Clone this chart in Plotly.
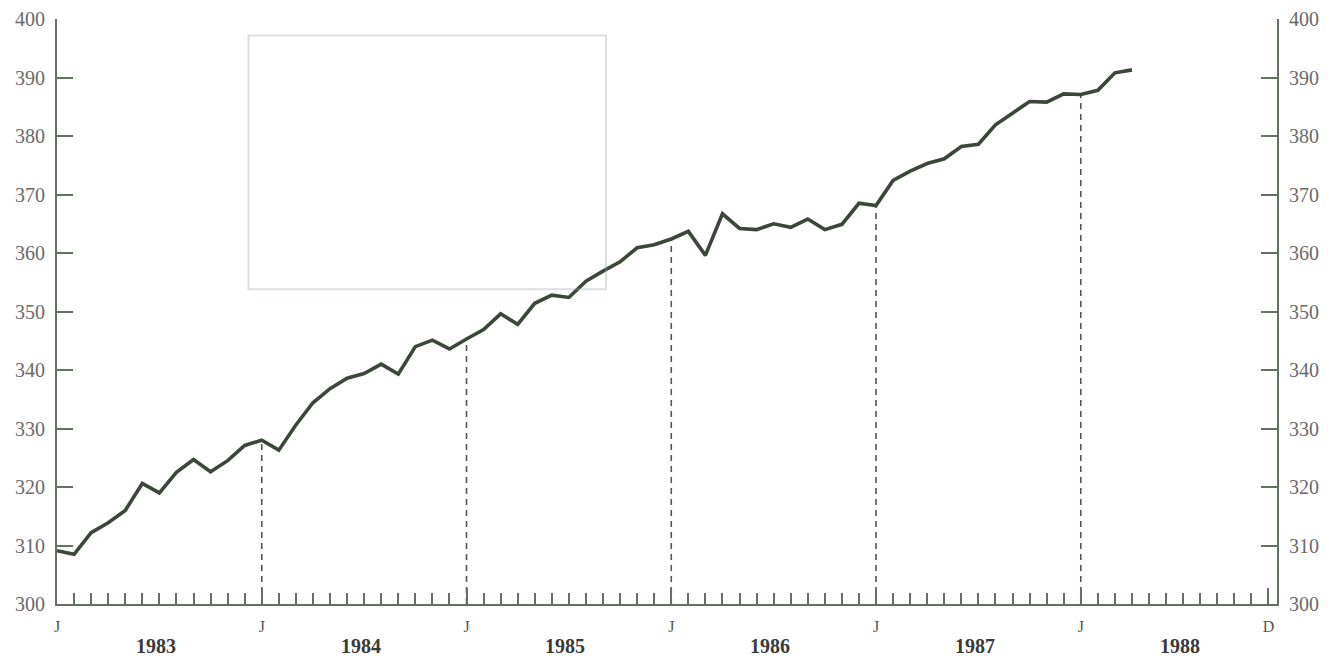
import plotly.graph_objects as go

# monthly values, Jan 1983 .. Apr 1988
values = [
    309.1, 308.5, 312.2, 313.9, 316.0, 320.6, 319.0, 322.5, 324.7, 322.6, 324.5, 327.1,  # 1983
    328.0, 326.3, 330.6, 334.4, 336.8, 338.6, 339.4, 341.0, 339.3, 344.0, 345.1, 343.6,  # 1984
    345.3, 346.9, 349.6, 347.8, 351.4, 352.8, 352.4, 355.2, 356.9, 358.5, 360.9, 361.4,  # 1985
    362.4, 363.7, 359.6, 366.7, 364.2, 364.0, 365.0, 364.4, 365.8, 364.0, 364.9, 368.5,  # 1986
    368.1, 372.4, 374.0, 375.3, 376.1, 378.2, 378.6, 381.9, 383.9, 385.9, 385.8, 387.2,  # 1987
    387.1, 387.8, 390.8, 391.3,                                                          # 1988
]
months = list(range(len(values)))
years = ["1983", "1984", "1985", "1986", "1987", "1988"]
month_ticks = [0, 12, 24, 36, 48, 60, 71]
month_labels = ["J", "J", "J", "J", "J", "J", "D"]
y_ticks = [300, 310, 320, 330, 340, 350, 360, 370, 380, 390, 400]

serif = "Liberation Serif, DejaVu Serif, serif"
axis_col = "#60735c"
line_col = "#3b4839"

fig = go.Figure()

# dashed drop lines at each January
for m in month_ticks[1:-1]:
    if m < len(values):
        fig.add_trace(go.Scatter(
            x=[m, m], y=[300, values[m]], mode="lines",
            line=dict(color="#555555", width=1.6, dash="6px,5px"),
            hoverinfo="skip", showlegend=False))

fig.add_trace(go.Scatter(
    x=months, y=values, mode="lines",
    line=dict(color=line_col, width=3.6),
    showlegend=False))

# invisible copy to carry the right-hand axis
fig.add_trace(go.Scatter(
    x=months, y=values, mode="lines", yaxis="y2",
    line=dict(color="rgba(0,0,0,0)", width=0),
    hoverinfo="skip", showlegend=False))

# year labels centred in each year
for i, yr in enumerate(years):
    fig.add_annotation(
        x=i * 12 + 5.8, y=-0.071, xref="x", yref="paper", text="<b>" + yr + "</b>",
        showarrow=False, yanchor="middle",
        font=dict(family=serif, size=20, color="#3a3a3a"))

# faint library stamp bleeding through the scan
fig.add_shape(type="rect", xref="paper", yref="paper",
              x0=0.157, x1=0.450, y0=0.538, y1=0.972,
              line=dict(color="rgba(150,160,170,0.35)", width=2))

fig.update_layout(
    width=1320, height=648,
    margin=dict(l=49, r=51, t=11, b=52),
    plot_bgcolor="white", paper_bgcolor="white",
    font=dict(family=serif, size=20, color="#6a6a6a"),
    xaxis=dict(
        range=[0, 71.5], tickmode="array", tickvals=month_ticks, ticktext=month_labels,
        ticks="inside", ticklen=16, tickwidth=1.5, tickcolor=axis_col,
        showline=True, linecolor=axis_col, linewidth=2, automargin=False,
        showgrid=False, zeroline=False, ticklabelstandoff=7,
        tickfont=dict(family=serif, size=16, color="#555555"),
        minor=dict(tickmode="linear", tick0=0, dtick=1, ticks="inside",
                   ticklen=11, tickwidth=1.5, tickcolor=axis_col, showgrid=False),
    ),
    yaxis=dict(
        range=[300, 400], tickvals=y_ticks, automargin=False,
        ticks="inside", ticklen=16, tickwidth=2, tickcolor=axis_col,
        showline=True, linecolor=axis_col, linewidth=2,
        showgrid=False, zeroline=False, ticklabelstandoff=6,
    ),
    yaxis2=dict(
        range=[300, 400], tickvals=y_ticks, overlaying="y", side="right", automargin=False,
        ticks="inside", ticklen=16, tickwidth=2, tickcolor=axis_col,
        showline=True, linecolor=axis_col, linewidth=2,
        showgrid=False, zeroline=False, ticklabelstandoff=6,
    ),
)

fig.write_html("out.html")
